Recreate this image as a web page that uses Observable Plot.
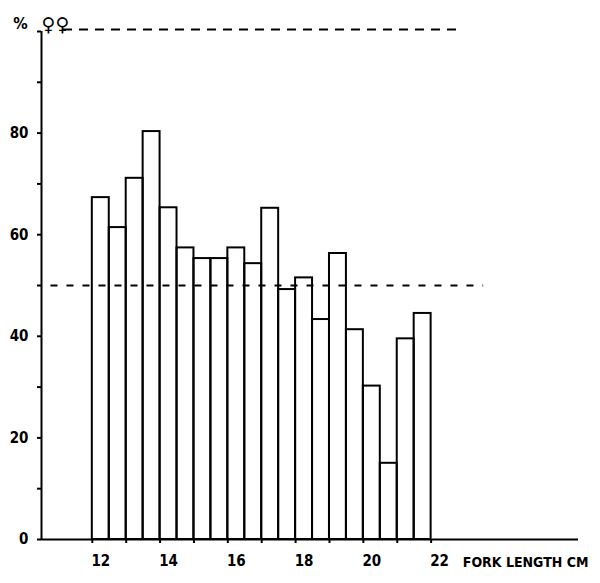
<!DOCTYPE html>
<html>
<head>
<meta charset="utf-8">
<script src="https://cdn.jsdelivr.net/npm/d3@7"></script>
<script src="https://cdn.jsdelivr.net/npm/@observablehq/plot@0.6"></script>
<style>
  html, body { margin: 0; padding: 0; background: #fff; }
  svg { display: block; }
</style>
</head>
<body>
<div id="chart"></div>
<script>
// Fork length classes (cm, class centres) and percentage of females
const forkLength = [12, 12.5, 13, 13.5, 14, 14.5, 15, 15.5, 16, 16.5, 17, 17.5, 18, 18.5, 19, 19.5, 20, 20.5, 21, 21.5];
const pctFemale  = [67.3, 61.4, 71.1, 80.3, 65.3, 57.4, 55.3, 55.3, 57.4, 54.3, 65.2, 49.2, 51.5, 43.3, 56.3, 41.3, 30.2, 15.0, 39.5, 44.5];
const classWidth = 0.5;

const yMinorTicks = [0, 10, 20, 30, 40, 50, 60, 70, 80, 90, 100];
const yTickLabels = [0, 20, 40, 60, 80];
const xTickLabels = [12, 14, 16, 18, 20, 22];
const xMinorTicks = [11.75, 12.75, 13.75, 14.75, 15.75, 16.75, 17.75, 18.75, 19.75, 20.75, 21.75];

const refLevel = [50];      // 50 % reference line
const allFemale = [100];    // 100 % (all females) line
const xAxisEnd = 26.1;
const xAxisStart = 10.25;

const data = forkLength.map((len, i) => ({len, pct: pctFemale[i]}));

const font = "'Liberation Sans Narrow', 'DejaVu Sans Condensed', 'Arial Narrow', sans-serif";

const chart = Plot.plot({
  width: 600,
  height: 583,
  marginLeft: 41,
  marginRight: 22,
  marginTop: 31,
  marginBottom: 44,
  style: {fontFamily: font, fontSize: "15px", fontWeight: "bold", color: "black", background: "white"},
  x: {domain: [xAxisStart, xAxisEnd]},
  y: {domain: [0, 100]},
  marks: [
    // dashed reference lines
    Plot.ruleY(refLevel, {x1: 10.53, x2: 23.3, stroke: "black", strokeWidth: 2.2, strokeDasharray: "7,9"}),
    Plot.ruleY(allFemale, {x1: 10.9, x2: 22.5, stroke: "black", strokeWidth: 2, strokeDasharray: "9,7", dy: -2}),
    // histogram bars
    Plot.rect(data, {
      x1: d => d.len - classWidth / 2,
      x2: d => d.len + classWidth / 2,
      y1: 0,
      y2: "pct",
      fill: "none",
      stroke: "black",
      strokeWidth: 2
    }),
    // axes lines
    Plot.ruleX([xAxisStart], {y1: 0, y2: 100, stroke: "black", strokeWidth: 2}),
    Plot.ruleY([0], {x1: xAxisStart, x2: xAxisEnd, stroke: "black", strokeWidth: 2}),
    // y ticks and labels
    Plot.axisY({ticks: yMinorTicks, tickSize: 4, tickFormat: () => "", label: null, strokeWidth: 2}),
    Plot.axisY({ticks: yTickLabels, tickSize: 0, tickPadding: 13, label: null, fontSize: 15, fontWeight: "bold"}),
    // x ticks and labels
    Plot.axisX({ticks: xMinorTicks, tickSize: 4, tickFormat: () => "", label: null, strokeWidth: 2}),
    Plot.axisX({ticks: xTickLabels, tickSize: 0, tickPadding: 16, label: null, fontSize: 15, fontWeight: "bold"}),
    // axis titles
    Plot.text(["FORK LENGTH CM"], {frameAnchor: "bottom-right", dx: 10, dy: 23, textAnchor: "end", lineAnchor: "middle", fontSize: 14, fontWeight: "bold"}),
    Plot.text(["%"], {frameAnchor: "top-left", dx: -21, dy: -8, textAnchor: "middle", lineAnchor: "middle", fontSize: 16, fontWeight: "bold"}),
    Plot.text(["\u2640\u2640"], {frameAnchor: "top-left", dx: 0, dy: -7, textAnchor: "start", lineAnchor: "middle", fontSize: 19, fontWeight: "bold", fontFamily: "'DejaVu Sans', sans-serif"})
  ]
});

document.getElementById("chart").append(chart);
</script>
</body>
</html>
